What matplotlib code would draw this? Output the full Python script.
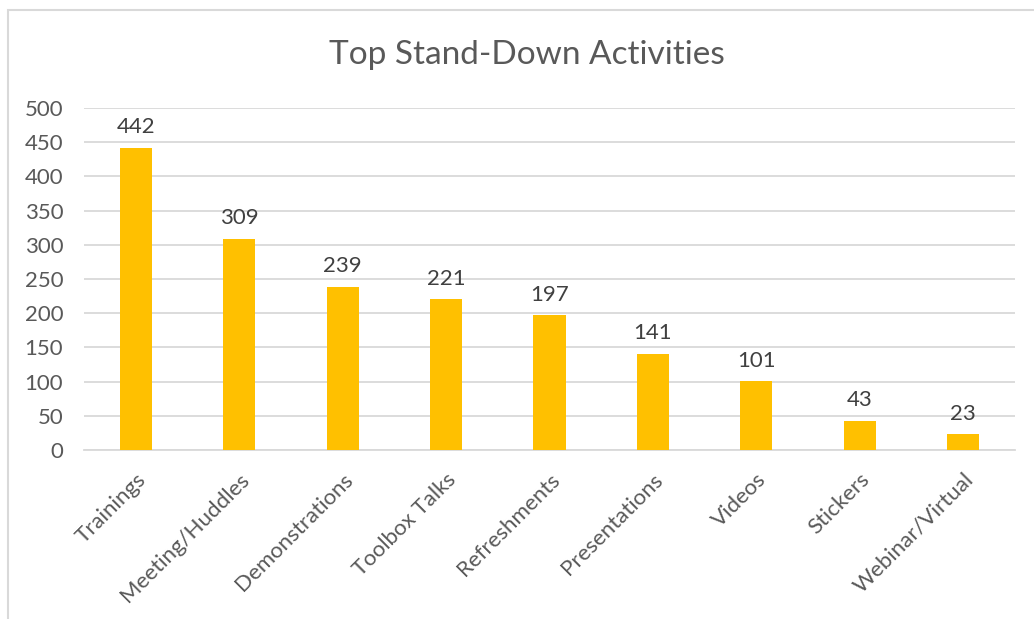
import matplotlib.pyplot as plt
from matplotlib.patches import Rectangle

activities = ['Trainings', 'Meeting/Huddles', 'Demonstrations', 'Toolbox Talks',
              'Refreshments', 'Presentations', 'Videos', 'Stickers', 'Webinar/Virtual']
counts = [442, 309, 239, 221, 197, 141, 101, 43, 23]
yticks = list(range(0, 501, 50))

plt.rcParams['font.family'] = ['Lato', 'DejaVu Sans']

fig = plt.figure(figsize=(10.34, 6.19), dpi=100)
ax = fig.add_axes([84 / 1034, 1 - 450 / 619, 931 / 1034, 342 / 619])

# chart-area frame (runs off the right and bottom edges)
fig.patches.append(Rectangle((8 / 1034, -0.05), 1.1, 1 - 10 / 619 + 0.05,
                             transform=fig.transFigure, fill=False,
                             edgecolor='#D9D9D9', linewidth=1.5))

x = range(len(activities))
bars = ax.bar(x, counts, width=0.31, color='#FFC000', zorder=3)
for b, v in zip(bars, counts):
    ax.text(b.get_x() + b.get_width() / 2, v + 15, str(v), ha='center', va='bottom',
            fontsize=16, color='#404040')

ax.set_xlim(-0.5, len(activities) - 0.5)
ax.set_ylim(0, 500)
ax.set_yticks(yticks)
ax.yaxis.grid(True, color='#D9D9D9', linewidth=1.3, zorder=0)
ax.set_axisbelow(True)
for s in ['top', 'right', 'left']:
    ax.spines[s].set_visible(False)
ax.spines['bottom'].set_color('#D9D9D9')
ax.spines['bottom'].set_linewidth(1.3)
ax.tick_params(axis='both', length=0, labelsize=16, labelcolor='#595959')
ax.tick_params(axis='y', pad=15)
ax.tick_params(axis='x', pad=14)
ax.set_xticks(list(x))
ax.set_xticklabels(activities, rotation=45, ha='right', rotation_mode='anchor')

fig.text(527 / 1034, 1 - 55 / 619, 'Top Stand-Down Activities', ha='center', va='center',
         fontsize=24, color='#595959')

fig.savefig('out.png', dpi=100)
